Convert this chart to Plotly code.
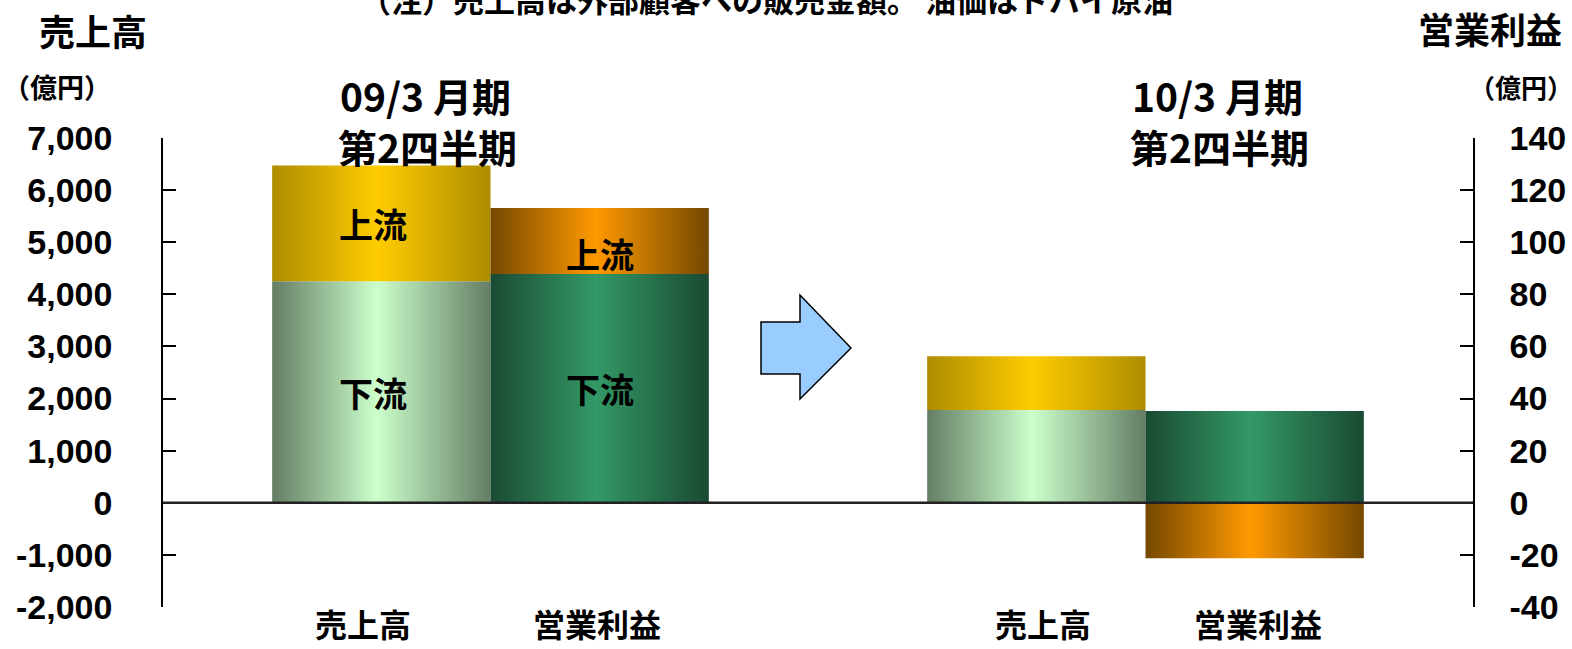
import plotly.graph_objects as go

# ---------------- data ----------------
periods_line1 = ["09/3 月期", "10/3 月期"]
periods_line2 = ["第2四半期", "第2四半期"]
bar_names = ["売上高", "営業利益"]
sales_downstream = [4250, 1780]      # 売上高 下流 (億円)
sales_upstream = [2220, 1030]        # 売上高 上流 (億円)
op_downstream = [87.8, 35.2]         # 営業利益 下流 (億円)
op_upstream = [25.3, -21.3]          # 営業利益 上流 (億円)
left_ticks = [-2000, -1000, 0, 1000, 2000, 3000, 4000, 5000, 6000, 7000]
left_ticktext = ["-2,000", "-1,000", "0", "1,000", "2,000", "3,000", "4,000", "5,000", "6,000", "7,000"]
right_ticks = [-40, -20, 0, 20, 40, 60, 80, 100, 120, 140]
right_ticktext = ["-40", "-20", "0", "20", "40", "60", "80", "100", "120", "140"]
note_text = "（注）売上高は外部顧客への販売金額。 油価はドバイ原油"

# ---------------- styling ----------------
W, H = 1572, 649
L, R, T, B = 163, 99, 138, 42
JP = "Noto Sans CJK JP"
NUM = "Liberation Sans, Arial"

C_YELLOW = ("#AD8C00", "#FFCC00")
C_LGREEN = ("#647D64", "#CCFFCC")
C_DGREEN = ("#1A4A33", "#339966")
C_ORANGE = ("#754800", "#FF9900")


def px(x):
    return (x - L) / (W - L - R)


def py(y):
    return (H - B - y) / (H - T - B)


def grad(c):
    return dict(type="horizontal",
                colorscale=[[0, c[0]], [0.48, c[1]], [1, c[0]]])


fig = go.Figure()


def add_segment(xc, base, top, colors, axis):
    x0, x1 = xc - 0.5, xc + 0.5
    fig.add_trace(go.Scatter(
        x=[x0, x1, x1, x0, x0], y=[base, base, top, top, base],
        mode="lines", line=dict(width=0), fill="toself",
        fillgradient=grad(colors), yaxis=axis, showlegend=False,
        hoverinfo="skip"))


tickvals = []
for g in range(len(periods_line1)):
    xs = g * 3 + 1
    xo = g * 3 + 2
    tickvals += [xs, xo]
    # 売上高
    add_segment(xs, 0, sales_downstream[g], C_LGREEN, "y")
    add_segment(xs, sales_downstream[g], sales_downstream[g] + sales_upstream[g], C_YELLOW, "y")
    # 営業利益
    add_segment(xo, 0, op_downstream[g], C_DGREEN, "y2")
    if op_upstream[g] >= 0:
        add_segment(xo, op_downstream[g], op_downstream[g] + op_upstream[g], C_ORANGE, "y2")
    else:
        add_segment(xo, 0, op_upstream[g], C_ORANGE, "y2")

annotations = []


def ann(text, x, y, size, **kw):
    d = dict(text=text, x=x, y=y, xref="paper", yref="paper", showarrow=False,
             font=dict(family=JP, size=size, color="black", weight="bold"),
             xanchor="center", yanchor="middle")
    d.update(kw)
    annotations.append(d)


def seg_label(text, x, y, yref, **kw):
    d = dict(text=text, x=x, y=y, xref="x", yref=yref, showarrow=False,
             font=dict(family=JP, size=34, color="black", weight="bold"))
    d.update(kw)
    annotations.append(d)


# segment labels (first period only)
g = 0
seg_label("上流", 1, sales_downstream[g] + sales_upstream[g] / 2, "y", xshift=-8)
seg_label("下流", 1, sales_downstream[g] / 2, "y", xshift=-8)
seg_label("上流", 2, op_downstream[g] + op_upstream[g] / 2, "y2", yshift=-12)
seg_label("下流", 2, op_downstream[g] / 2, "y2")

# category labels under the bars
for i, (tv, off) in enumerate(zip(tickvals, [-18, -3, 7, 3])):
    annotations.append(dict(text=bar_names[i % 2], x=tv, y=py(648), xref="x", yref="paper",
                            xshift=off, showarrow=False, yanchor="bottom",
                            font=dict(family=JP, size=32, color="black", weight="bold")))

# titles
ann("売上高", px(93), py(30), 36)
ann("（億円）", px(57), py(86), 27)
ann("営業利益", px(1490), py(28), 36)
ann("（億円）", px(1521), py(86), 26)
for gx, l1, l2 in zip([425, 1217], periods_line1, periods_line2):
    ann(l1, px(gx), py(95), 39)
    ann(l2, px(gx + 2), py(146), 39)
ann(note_text, px(766), py(-2), 31)

shapes = [
    dict(type="line", xref="paper", x0=0, x1=1, yref="y", y0=0, y1=0,
         line=dict(color="#222222", width=2.5), layer="above"),
    dict(type="path", xref="paper", yref="paper", layer="above",
         path="M {a},{b} L {c},{b} L {c},{d} L {e},{f} L {c},{g} L {c},{h} L {a},{h} Z".format(
             a=px(761), b=py(322), c=px(800), d=py(295), e=px(851), f=py(348),
             g=py(399), h=py(374)),
         fillcolor="#99CCFF", line=dict(color="black", width=1.5)),
]

fig.update_layout(
    width=W, height=H,
    margin=dict(l=L, r=R, t=T, b=B, autoexpand=False),
    paper_bgcolor="white", plot_bgcolor="white",
    showlegend=False,
    annotations=annotations,
    shapes=shapes,
    xaxis=dict(range=[0, 6], tickvals=tickvals, showticklabels=False,
               showgrid=False, zeroline=False, showline=False, ticks="",
               automargin=False, fixedrange=True),
    yaxis=dict(range=[-2000, 7000], tickvals=left_ticks, ticktext=left_ticktext,
               showgrid=False, zeroline=False, showline=True, linecolor="black",
               linewidth=1.5, ticks="inside", ticklen=13, tickwidth=1.5, tickcolor="black",
               tickfont=dict(family=NUM, size=34, color="black", weight="bold"),
               ticklabelstandoff=42, automargin=False),
    yaxis2=dict(range=[-40, 140], tickvals=right_ticks, ticktext=right_ticktext,
                overlaying="y", side="right",
                showgrid=False, zeroline=False, showline=True, linecolor="black",
                linewidth=1.5, ticks="inside", ticklen=13, tickwidth=1.5, tickcolor="black",
                tickfont=dict(family=NUM, size=34, color="black", weight="bold"),
                ticklabelstandoff=28, automargin=False),
)

fig.write_html("out.html", config={"displayModeBar": False},
               post_script="document.body.style.margin='0';document.body.style.overflow='hidden';")
